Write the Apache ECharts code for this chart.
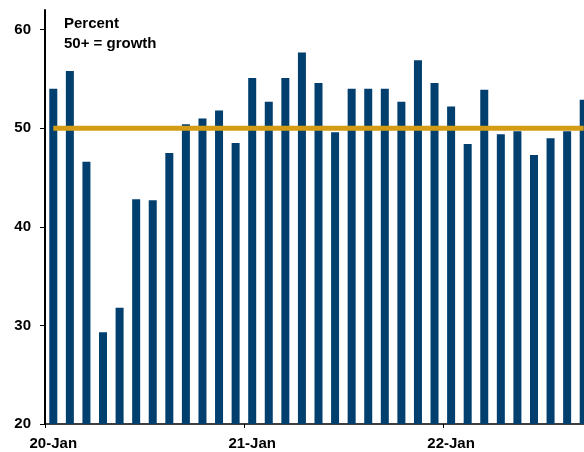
<!DOCTYPE html>
<html>
<head>
<meta charset="utf-8">
<script src="https://cdn.jsdelivr.net/npm/echarts@6/dist/echarts.min.js"></script>
<style>
  html, body { margin: 0; padding: 0; background: #fff; }
  #main { width: 584px; height: 452px; }
</style>
</head>
<body>
<div id="main"></div>
<script>
// monthly readings, Jan 2020 onward
var values = [54.0, 55.8, 46.6, 29.3, 31.8, 42.8, 42.7, 47.5, 50.4, 51.0, 51.8, 48.5,
              55.1, 52.7, 55.1, 57.7, 54.6, 49.6, 54.0, 54.0, 54.0, 52.7, 56.9, 54.6,
              52.2, 48.4, 53.9, 49.4, 49.7, 47.3, 49.0, 49.7, 52.9];
var threshold = [50, 50, 50, 50, 50, 50, 50, 50, 50, 50, 50, 50,
                 50, 50, 50, 50, 50, 50, 50, 50, 50, 50, 50, 50,
                 50, 50, 50, 50, 50, 50, 50, 50, 50];
var yearTicks = [0, 12, 24];
var yearLabelPos = [0.5, 12.5, 24.5];
var yearLabels = ['20-Jan', '21-Jan', '22-Jan'];
var yTicks = [20, 30, 40, 50, 60];

var font = 'Liberation Sans, Arial, sans-serif';

// bars sit in the middle of each month slot
var barData = values.map(function (v, i) { return [i + 0.5, v]; });
var lineData = threshold.map(function (v, i) { return [i + 0.5, v]; });

var myChart = echarts.init(document.getElementById('main'));
var option = {
  animation: false,
  grid: { left: 45, right: -8, top: 10, bottom: 28, outerBoundsMode: 'none', containLabel: false },
  xAxis: {
    type: 'value',
    min: 0,
    max: 33,
    splitLine: { show: false },
    axisLine: { show: true, lineStyle: { color: '#000', width: 1.5 } },
    axisTick: { show: true, length: 4, customValues: yearTicks, lineStyle: { color: '#000' } },
    axisLabel: {
      margin: 12,
      color: '#000',
      fontFamily: font,
      fontWeight: 'bold',
      fontSize: 15,
      customValues: yearLabelPos,
      formatter: function (v) {
        var k = yearLabelPos.indexOf(v);
        return k >= 0 ? yearLabels[k] : '';
      }
    }
  },
  yAxis: {
    type: 'value',
    min: 20,
    max: 62,
    splitLine: { show: false },
    axisLine: { show: true, lineStyle: { color: '#000', width: 2 } },
    axisTick: { show: true, length: 5, customValues: yTicks, lineStyle: { color: '#000' } },
    axisLabel: {
      margin: 14,
      color: '#000',
      fontFamily: font,
      fontWeight: 'bold',
      fontSize: 15,
      customValues: yTicks
    }
  },
  graphic: [{
    type: 'text',
    left: 64,
    top: 14,
    style: {
      text: 'Percent\n50+ = growth',
      fontFamily: font,
      fontWeight: 'bold',
      fontSize: 15,
      lineHeight: 20,
      fill: '#000'
    }
  }],
  series: [{
    type: 'bar',
    data: barData,
    barWidth: 8,
    itemStyle: { color: '#003F6E' }
  }, {
    type: 'line',
    data: lineData,
    symbol: 'none',
    lineStyle: { color: '#D49C14', width: 5 },
    z: 5
  }]
};
myChart.setOption(option);
</script>
</body>
</html>
